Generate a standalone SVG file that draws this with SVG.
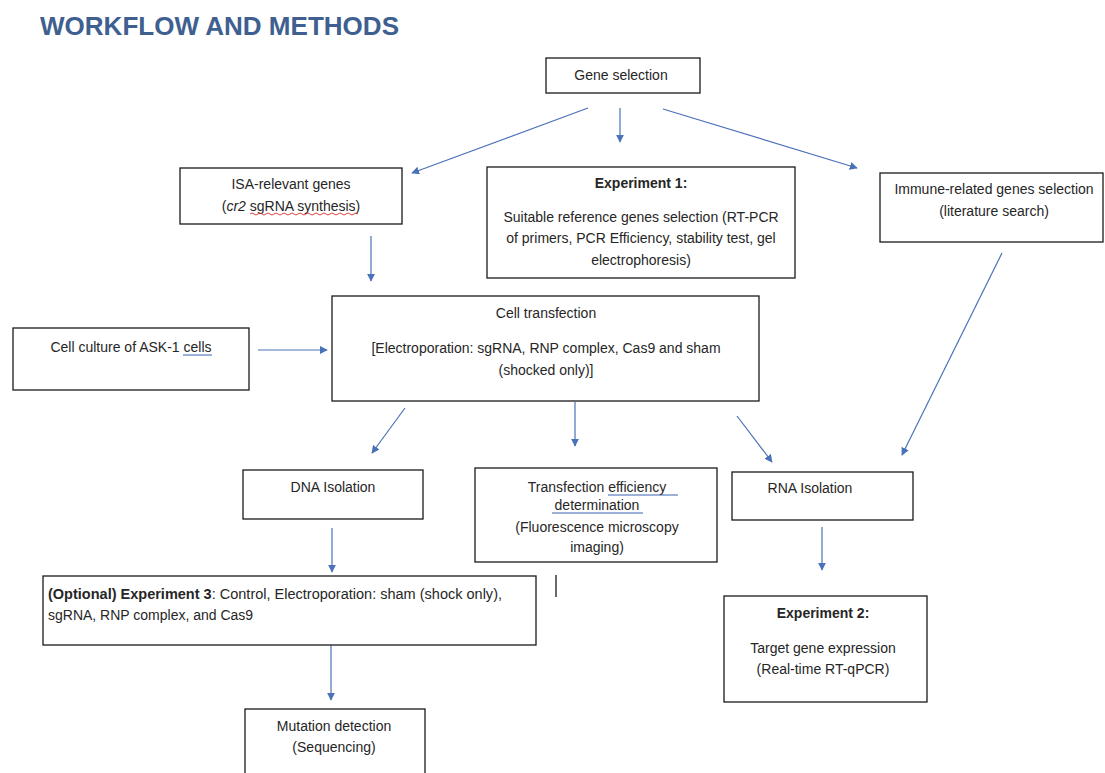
<svg xmlns="http://www.w3.org/2000/svg" width="1105" height="773" viewBox="0 0 1105 773">
<style>
  .box { fill: #ffffff; stroke: #1a1a1a; stroke-width: 1.3; }
  .t { font-family: "Liberation Sans", Arial, sans-serif; font-size: 14px; fill: #262626; }
  .c { text-anchor: middle; }
  .b { font-weight: bold; }
  .con { stroke: #4a72b8; stroke-width: 1.2; fill: none; marker-end: url(#ah); }
  .ul { stroke: #3a63b0; stroke-width: 1; fill: none; }
</style>
<defs>
  <marker id="ah" viewBox="0 0 10 10" refX="9" refY="5" markerWidth="8" markerHeight="8" markerUnits="userSpaceOnUse" orient="auto">
    <path d="M0,0 L10,5 L0,10 z" fill="#4a72b8"/>
  </marker>
</defs>
<rect width="1105" height="773" fill="#ffffff"/>
<text x="40" y="35" font-family="Liberation Sans, Arial, sans-serif" font-size="26" font-weight="bold" fill="#3e5f8f" textLength="359" lengthAdjust="spacingAndGlyphs">WORKFLOW AND METHODS</text>

<g id="connectors">
  <line class="con" x1="588" y1="108" x2="412" y2="173"/>
  <line class="con" x1="620" y1="108" x2="620" y2="142"/>
  <line class="con" x1="663" y1="109" x2="857" y2="168"/>
  <line class="con" x1="371" y1="236" x2="371" y2="281"/>
  <line class="con" x1="258" y1="350" x2="327" y2="350"/>
  <line class="con" x1="405" y1="408" x2="372" y2="453"/>
  <line class="con" x1="575" y1="402" x2="575" y2="446"/>
  <line class="con" x1="737" y1="416" x2="772" y2="462"/>
  <line class="con" x1="1002" y1="253" x2="902" y2="455"/>
  <line class="con" x1="332" y1="528" x2="332" y2="572"/>
  <line class="con" x1="822" y1="527" x2="822" y2="570"/>
  <line class="con" x1="331" y1="645" x2="331" y2="700"/>
</g>

<g id="gene-selection">
  <rect class="box" x="546" y="58" width="154" height="35"/>
  <text class="t c" x="621" y="80">Gene selection</text>
</g>

<g id="isa-genes">
  <rect class="box" x="180" y="168" width="222" height="56"/>
  <text class="t c" x="291" y="189">ISA-relevant genes</text>
  <text class="t c" x="291" y="211">(<tspan font-style="italic">cr2</tspan> sgRNA synthesis)</text>
  <path d="M250,214 q2,-2 4,0 t4,0 t4,0 t4,0 t4,0 t4,0 t4,0 t4,0 t4,0 t4,0 t4,0 t4,0 t4,0 t4,0 t4,0 t4,0 t4,0 t4,0 t4,0 t4,0 t4,0 t4,0 t4,0 t4,0 t4,0 t4,0 t4,0" stroke="#d03030" stroke-width="0.9" fill="none"/>
</g>

<g id="experiment-1">
  <rect class="box" x="487" y="167" width="308" height="111"/>
  <text class="t c b" x="641" y="188">Experiment 1:</text>
  <text class="t c" x="641" y="222">Suitable reference genes selection (RT-PCR</text>
  <text class="t c" x="641" y="243">of primers, PCR Efficiency, stability test, gel</text>
  <text class="t c" x="641" y="265">electrophoresis)</text>
</g>

<g id="immune-genes">
  <rect class="box" x="880" y="173" width="223" height="69"/>
  <text class="t c" x="994" y="194">Immune-related genes selection</text>
  <text class="t c" x="994" y="216">(literature search)</text>
</g>

<g id="cell-culture">
  <rect class="box" x="13" y="328" width="236" height="62"/>
  <text class="t c" x="131" y="352">Cell culture of ASK-1 cells</text>
  <line class="ul" x1="183" y1="355" x2="212" y2="355"/>
</g>

<g id="cell-transfection">
  <rect class="box" x="332" y="296" width="427" height="105"/>
  <text class="t c" x="546" y="318">Cell transfection</text>
  <text class="t c" x="546" y="353">[Electroporation: sgRNA, RNP complex, Cas9 and sham</text>
  <text class="t c" x="546" y="375">(shocked only)]</text>
</g>

<g id="dna-isolation">
  <rect class="box" x="243" y="470" width="180" height="49"/>
  <text class="t c" x="333" y="492">DNA Isolation</text>
</g>

<g id="transfection-efficiency">
  <rect class="box" x="475" y="468" width="242" height="94"/>
  <text class="t c" x="597" y="492">Transfection efficiency </text>
  <line class="ul" x1="608" y1="495" x2="678" y2="495"/>
  <text class="t c" x="597" y="510">determination</text>
  <line class="ul" x1="552" y1="513" x2="643" y2="513"/>
  <text class="t c" x="597" y="532">(Fluorescence microscopy</text>
  <text class="t c" x="597" y="552">imaging)</text>
</g>

<g id="rna-isolation">
  <rect class="box" x="732" y="472" width="181" height="48"/>
  <text class="t c" x="810" y="493">RNA Isolation</text>
</g>

<g id="experiment-3">
  <rect class="box" x="43" y="576" width="493" height="69"/>
  <text class="t" x="48" y="599" textLength="454" lengthAdjust="spacingAndGlyphs"><tspan class="b">(Optional) Experiment 3</tspan>: Control, Electroporation: sham (shock only),</text>
  <text class="t" x="48" y="620">sgRNA, RNP complex, and Cas9</text>
</g>

<line x1="556" y1="575" x2="556" y2="597" stroke="#1a1a1a" stroke-width="1.3"/>

<g id="experiment-2">
  <rect class="box" x="724" y="596" width="203" height="106"/>
  <text class="t c b" x="823" y="618">Experiment 2:</text>
  <text class="t c" x="823" y="653">Target gene expression</text>
  <text class="t c" x="823" y="674">(Real-time RT-qPCR)</text>
</g>

<g id="mutation-detection">
  <rect class="box" x="245" y="709" width="180" height="70"/>
  <text class="t c" x="334" y="731">Mutation detection</text>
  <text class="t c" x="334" y="752">(Sequencing)</text>
</g>
</svg>
